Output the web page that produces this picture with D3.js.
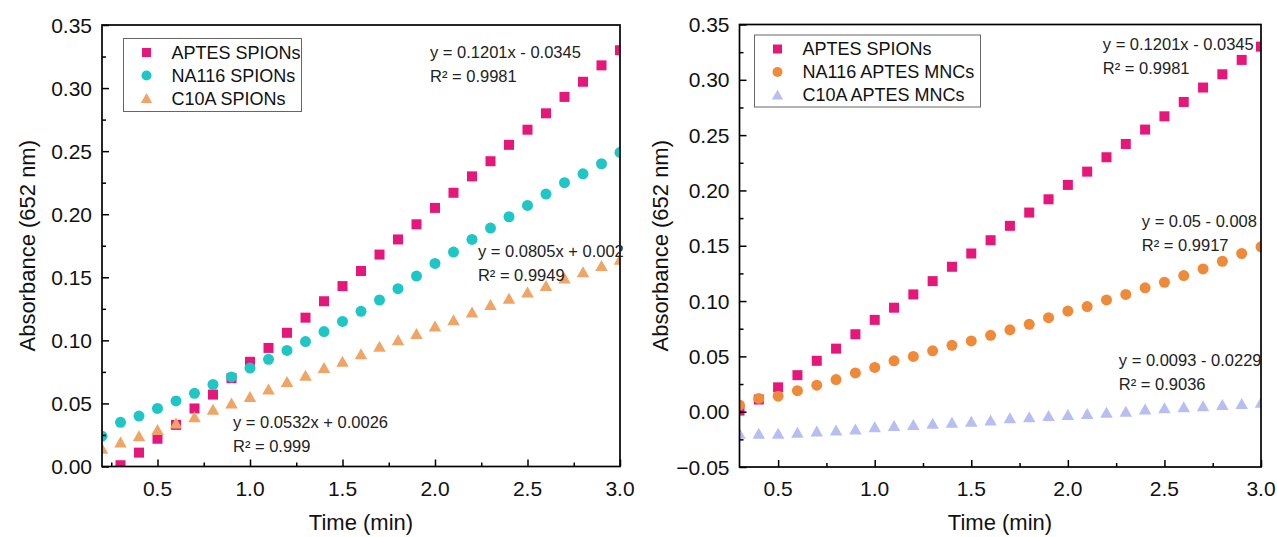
<!DOCTYPE html>
<html lang="en">
<head>
  <meta charset="UTF-8">
  <title>Absorbance vs time</title>
  <script src="https://d3js.org/d3.v7.min.js"></script>
  <style>
    body { margin: 0; background: #fff; }
    svg { display: block; font-family: Arial, "Liberation Sans", sans-serif; }
    .axis-line { stroke: #000; stroke-width: 1.7px; fill: none; }
    .tick-label { font-size: 21px; fill: #111; }
    .axis-title { font-size: 22px; fill: #111; }
    .legend-text { font-size: 18px; fill: #111; }
    .annot { font-size: 16.5px; fill: #222; }
  </style>
</head>
<body>
  <svg id="chart" width="1277" height="537"></svg>

  <script>
    // time points (min)
    const timeLeft = [0.2, 0.3, 0.4, 0.5, 0.6, 0.7, 0.8, 0.9, 1.0, 1.1, 1.2, 1.3, 1.4, 1.5, 1.6,
      1.7, 1.8, 1.9, 2.0, 2.1, 2.2, 2.3, 2.4, 2.5, 2.6, 2.7, 2.8, 2.9, 3.0];
    const timeAptes = timeLeft.slice(1);

    // absorbance at 652 nm
    const aptesSpions = [0.001, 0.011, 0.022, 0.033, 0.046, 0.057, 0.070, 0.083, 0.094, 0.106,
      0.118, 0.131, 0.143, 0.155, 0.168, 0.180, 0.192, 0.205, 0.217, 0.230, 0.242, 0.255,
      0.267, 0.280, 0.293, 0.305, 0.318, 0.330];
    const na116Spions = [0.024, 0.035, 0.040, 0.046, 0.052, 0.058, 0.065, 0.071, 0.078, 0.085,
      0.092, 0.099, 0.107, 0.115, 0.123, 0.132, 0.141, 0.151, 0.161, 0.170, 0.180, 0.189,
      0.198, 0.207, 0.216, 0.225, 0.232, 0.240, 0.249];
    const c10aSpions = [0.014, 0.019, 0.024, 0.029, 0.034, 0.039, 0.045, 0.050, 0.055, 0.061,
      0.067, 0.072, 0.078, 0.083, 0.089, 0.095, 0.100, 0.105, 0.111, 0.116, 0.122, 0.128,
      0.133, 0.138, 0.143, 0.149, 0.154, 0.159, 0.164];
    const na116Mncs = [0.006, 0.012, 0.014, 0.019, 0.024, 0.029, 0.035, 0.040, 0.046, 0.050,
      0.055, 0.060, 0.064, 0.069, 0.074, 0.079, 0.085, 0.091, 0.095, 0.101, 0.106, 0.112,
      0.117, 0.123, 0.129, 0.136, 0.143, 0.149];
    const c10aMncs = [-0.020, -0.020, -0.020, -0.019, -0.018, -0.017, -0.016, -0.014, -0.013,
      -0.012, -0.011, -0.010, -0.009, -0.008, -0.006, -0.005, -0.004, -0.003, -0.002, -0.001,
      0.000, 0.002, 0.003, 0.004, 0.005, 0.006, 0.007, 0.008];

    const yTicksLeft = [0, 0.05, 0.10, 0.15, 0.20, 0.25, 0.30, 0.35];
    const yTicksRight = [-0.05, 0, 0.05, 0.10, 0.15, 0.20, 0.25, 0.30, 0.35];
    const xTicks = [0.5, 1.0, 1.5, 2.0, 2.5, 3.0];

    const pink = '#e6167b', cyan = '#1fc6c6', tan = '#f0a466', orange = '#ef8a39', lavender = '#b7bef1';

    const panels = [
      {
        left: 102, right: 620, top: 25, bottom: 466.5,
        xDomain: [0.2, 3.0], yDomain: [0, 0.35], yTicks: yTicksLeft,
        yTitleX: 27, xTitleX: 361,
        legend: { x: 123.5, y: 38.5, w: 178, h: 73 },
        series: [
          { name: 'APTES SPIONs', shape: 'square', color: pink, x: timeAptes, y: aptesSpions },
          { name: 'NA116 SPIONs', shape: 'circle', color: cyan, x: timeLeft, y: na116Spions },
          { name: 'C10A SPIONs', shape: 'triangle', color: tan, x: timeLeft, y: c10aSpions }
        ],
        notes: [
          { x: 1.973, y: 0.3287, lines: ['y = 0.1201x - 0.0345', 'R² = 0.9981'] },
          { x: 2.232, y: 0.1708, lines: ['y = 0.0805x + 0.002', 'R² = 0.9949'] },
          { x: 0.908, y: 0.0353, lines: ['y = 0.0532x + 0.0026', 'R² = 0.999'] }
        ]
      },
      {
        left: 739.5, right: 1261, top: 24.5, bottom: 467,
        xDomain: [0.3, 3.0], yDomain: [-0.05, 0.35], yTicks: yTicksRight,
        yTitleX: 660, xTitleX: 1000,
        legend: { x: 754.5, y: 35, w: 226, h: 72 },
        series: [
          { name: 'APTES SPIONs', shape: 'square', color: pink, x: timeAptes, y: aptesSpions },
          { name: 'NA116 APTES MNCs', shape: 'circle', color: orange, x: timeAptes, y: na116Mncs },
          { name: 'C10A APTES MNCs', shape: 'triangle', color: lavender, x: timeAptes, y: c10aMncs }
        ],
        notes: [
          { x: 2.181, y: 0.3324, lines: ['y = 0.1201x - 0.0345', 'R² = 0.9981'] },
          { x: 2.383, y: 0.1724, lines: ['y = 0.05 - 0.008', 'R² = 0.9917'] },
          { x: 2.264, y: 0.0467, lines: ['y = 0.0093 - 0.0229', 'R² = 0.9036'] }
        ]
      }
    ];

    const svg = d3.select('#chart');
    const fmt = d3.format('.2f');

    function drawMarker(g, shape, color, size) {
      if (shape === 'square') {
        g.append('rect').attr('x', -size / 2).attr('y', -size / 2)
          .attr('width', size).attr('height', size).attr('fill', color);
      } else if (shape === 'circle') {
        g.append('circle').attr('r', size / 2 + 0.5).attr('fill', color);
      } else {
        const w = size * 1.25, h = size;
        g.append('path').attr('d', `M0,${-h / 2 - 1}L${w / 2},${h / 2}L${-w / 2},${h / 2}Z`)
          .attr('fill', color);
      }
    }

    panels.forEach((p, i) => {
      const x = d3.scaleLinear().domain(p.xDomain).range([p.left, p.right]);
      const y = d3.scaleLinear().domain(p.yDomain).range([p.bottom, p.top]);
      const g = svg.append('g');

      g.append('clipPath').attr('id', 'clip' + i)
        .append('rect').attr('x', p.left).attr('y', p.top)
        .attr('width', p.right - p.left).attr('height', p.bottom - p.top);

      // markers
      const plot = g.append('g').attr('clip-path', `url(#clip${i})`);
      p.series.forEach(s => {
        s.y.forEach((v, k) => {
          const m = plot.append('g').attr('transform', `translate(${x(s.x[k])},${y(v)})`);
          drawMarker(m, s.shape, s.color, 10);
        });
      });

      // axes (ticks point inward)
      const xAxis = d3.axisTop(x).tickValues(d3.range(p.xDomain[0] <= 0.25 ? 0.25 : 0.5, 3.01, 0.25))
        .tickSize(4).tickFormat('');
      g.append('g').attr('transform', `translate(0,${p.bottom})`).call(xAxis)
        .call(a => a.select('.domain').remove())
        .call(a => a.selectAll('.tick line').attr('stroke-width', 1.5)
          .attr('y2', d => (Math.abs(d * 2 - Math.round(d * 2)) < 1e-6 ? -7 : -4)));
      const minorY = d3.range(p.yDomain[0], p.yDomain[1] + 0.001, 0.025);
      const yAxis = d3.axisRight(y).tickValues(minorY).tickSize(4).tickFormat('');
      g.append('g').attr('transform', `translate(${p.left},0)`).call(yAxis)
        .call(a => a.select('.domain').remove())
        .call(a => a.selectAll('.tick line').attr('stroke-width', 1.5)
          .attr('x2', d => (Math.abs(d * 20 - Math.round(d * 20)) < 1e-6 ? 7 : 4)));

      g.selectAll('.xlab').data(xTicks).join('text')
        .attr('class', 'tick-label').attr('x', d => x(d)).attr('y', p.bottom + 29)
        .attr('text-anchor', 'middle').text(d => d.toFixed(1));
      g.selectAll('.ylab').data(p.yTicks).join('text')
        .attr('class', 'tick-label').attr('x', p.left - 10).attr('y', d => y(d))
        .attr('dy', '0.36em').attr('text-anchor', 'end').text(d => fmt(d));

      g.append('rect').attr('class', 'axis-line')
        .attr('x', p.left).attr('y', p.top)
        .attr('width', p.right - p.left).attr('height', p.bottom - p.top);

      g.append('text').attr('class', 'axis-title')
        .attr('transform', `translate(${p.yTitleX},${(p.top + p.bottom) / 2}) rotate(-90)`)
        .attr('dy', '0.36em').attr('text-anchor', 'middle').text('Absorbance (652 nm)');
      g.append('text').attr('class', 'axis-title')
        .attr('x', p.xTitleX).attr('y', 530).attr('text-anchor', 'middle').text('Time (min)');

      // legend
      const lg = g.append('g').attr('transform', `translate(${p.legend.x},${p.legend.y})`);
      lg.append('rect').attr('width', p.legend.w).attr('height', p.legend.h)
        .attr('fill', '#fff').attr('stroke', '#666').attr('stroke-width', 1);
      p.series.forEach((s, k) => {
        const row = lg.append('g').attr('transform', `translate(23,${14 + k * 23})`);
        drawMarker(row, s.shape, s.color, 9);
        row.append('text').attr('class', 'legend-text').attr('x', 25).attr('dy', '0.36em').text(s.name);
      });

      // fit equations
      p.notes.forEach(n => {
        n.lines.forEach((t, k) => {
          g.append('text').attr('class', 'annot')
            .attr('x', x(n.x)).attr('y', y(n.y) + k * 24).attr('dy', '0.36em').text(t);
        });
      });
    });
  </script>
</body>
</html>
